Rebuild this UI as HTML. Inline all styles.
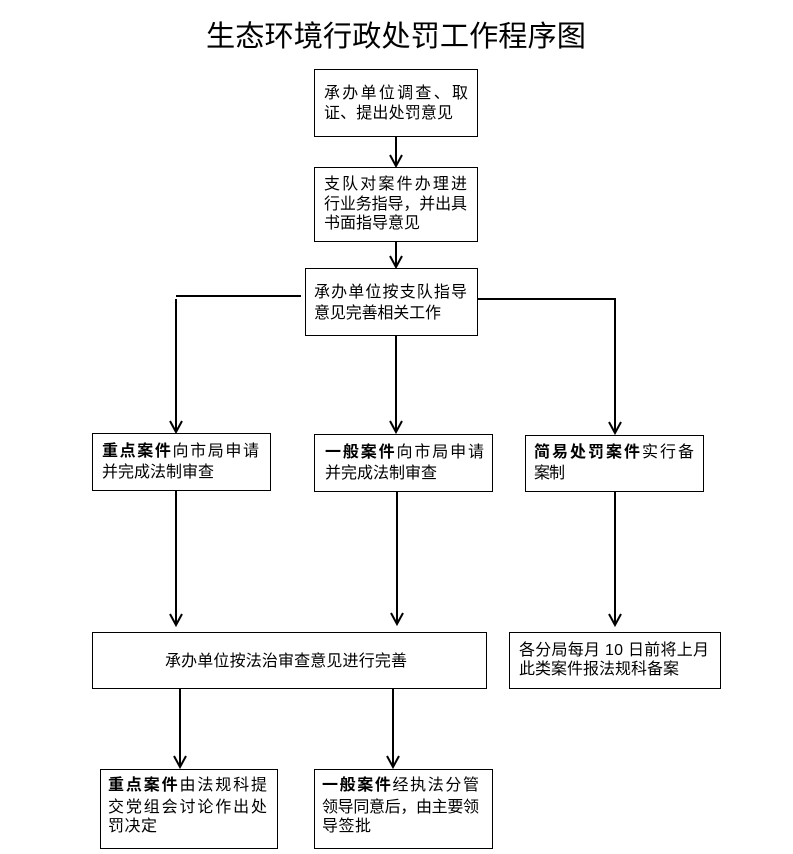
<!DOCTYPE html>
<html>
<head>
<meta charset="utf-8">
<style>
  html, body { margin: 0; padding: 0; background: #fff; }
  body { width: 793px; height: 854px; overflow: hidden; }
  svg { display: block; }
  text { font-family: "Liberation Sans", "Noto Sans CJK SC", sans-serif; fill: #000; }
  .t { font-size: 16px; }
  .b { font-weight: bold; }
  .title { font-size: 29px; }
</style>
</head>
<body>
<svg width="793" height="854" viewBox="0 0 793 854" xmlns="http://www.w3.org/2000/svg">
  <rect x="0" y="0" width="793" height="854" fill="#fff"/>

  <!-- Title -->
  <text class="title" x="206" y="46" textLength="380" lengthAdjust="spacingAndGlyphs">生态环境行政处罚工作程序图</text>

  <!-- Boxes -->
  <g fill="none" stroke="#000" stroke-width="1">
    <rect x="314.5" y="69.5" width="163" height="67"/>
    <rect x="314.5" y="167.5" width="163" height="74"/>
    <rect x="305.5" y="268.5" width="172" height="67"/>
    <rect x="92.5" y="433.5" width="178" height="57"/>
    <rect x="314.5" y="434.5" width="178" height="57"/>
    <rect x="525.5" y="435.5" width="178" height="56"/>
    <rect x="92.5" y="632.5" width="394" height="56"/>
    <rect x="509.5" y="632.5" width="211" height="56"/>
    <rect x="100.5" y="769.5" width="177" height="79"/>
    <rect x="314.5" y="769.5" width="178" height="79"/>
  </g>

  <!-- Connectors -->
  <g fill="none" stroke="#000" stroke-width="2">
    <!-- box1 -> box2 -->
    <line x1="396" y1="137" x2="396" y2="165"/>
    <path d="M390,155 L396,166 L402,155"/>
    <!-- box2 -> box3 -->
    <line x1="396" y1="242" x2="396" y2="266"/>
    <path d="M390,256 L396,267 L402,256"/>
    <!-- box3 left branch -->
    <line x1="176" y1="296" x2="301" y2="296"/>
    <line x1="176" y1="299" x2="176" y2="431"/>
    <path d="M170,421 L176,432 L182,421"/>
    <!-- box3 middle -->
    <line x1="396" y1="336" x2="396" y2="431"/>
    <path d="M390,421 L396,432 L402,421"/>
    <!-- box3 right branch -->
    <line x1="477" y1="299" x2="616" y2="299"/>
    <line x1="615" y1="300" x2="615" y2="432"/>
    <path d="M609,422 L615,433 L621,422"/>
    <!-- box4 -> box5 -->
    <line x1="176" y1="491" x2="176" y2="624"/>
    <path d="M170,614 L176,625 L182,614"/>
    <!-- box6 -> box5 -->
    <line x1="397" y1="492" x2="397" y2="623"/>
    <path d="M391,613 L397,624 L403,613"/>
    <!-- box7 -> box8 -->
    <line x1="615" y1="492" x2="615" y2="624"/>
    <path d="M609,614 L615,625 L621,614"/>
    <!-- box5 -> box9 -->
    <line x1="180" y1="689" x2="180" y2="766"/>
    <path d="M174,756 L180,767 L186,756"/>
    <!-- box5 -> box10 -->
    <line x1="393" y1="689" x2="393" y2="766"/>
    <path d="M387,756 L393,767 L399,756"/>
  </g>

  <!-- Box 1 text -->
  <text class="t" x="324" y="98" textLength="144" lengthAdjust="spacing">承办单位调查、取</text>
  <text class="t" x="324" y="118" textLength="129" lengthAdjust="spacing">证、提出处罚意见</text>

  <!-- Box 2 text -->
  <text class="t" x="324" y="189" textLength="143" lengthAdjust="spacing">支队对案件办理进</text>
  <text class="t" x="324" y="209" textLength="143" lengthAdjust="spacing">行业务指导，并出具</text>
  <text class="t" x="324" y="228" textLength="96" lengthAdjust="spacing">书面指导意见</text>

  <!-- Box 3 text -->
  <text class="t" x="314" y="297" textLength="153" lengthAdjust="spacing">承办单位按支队指导</text>
  <text class="t" x="314" y="318" textLength="127" lengthAdjust="spacing">意见完善相关工作</text>

  <!-- Box 4 text -->
  <text class="t" x="102" y="456" textLength="157" lengthAdjust="spacing"><tspan class="b">重点案件</tspan>向市局申请</text>
  <text class="t" x="102" y="477" textLength="112" lengthAdjust="spacing">并完成法制审查</text>

  <!-- Box 6 text -->
  <text class="t" x="325" y="457" textLength="159" lengthAdjust="spacing"><tspan class="b">一般案件</tspan>向市局申请</text>
  <text class="t" x="325" y="478" textLength="112" lengthAdjust="spacing">并完成法制审查</text>

  <!-- Box 7 text -->
  <text class="t" x="534" y="457" textLength="160" lengthAdjust="spacing"><tspan class="b">简易处罚案件</tspan>实行备</text>
  <text class="t" x="534" y="478" textLength="31" lengthAdjust="spacing">案制</text>

  <!-- Box 5 text -->
  <text class="t" x="165" y="666" textLength="242" lengthAdjust="spacing">承办单位按法治审查意见进行完善</text>

  <!-- Box 8 text -->
  <text class="t" x="519" y="655" textLength="190" lengthAdjust="spacing">各分局每月 10 日前将上月</text>
  <text class="t" x="519" y="674" textLength="160" lengthAdjust="spacing">此类案件报法规科备案</text>

  <!-- Box 9 text -->
  <text class="t" x="108" y="790" textLength="159" lengthAdjust="spacing"><tspan class="b">重点案件</tspan>由法规科提</text>
  <text class="t" x="108" y="812" textLength="159" lengthAdjust="spacing">交党组会讨论作出处</text>
  <text class="t" x="108" y="831" textLength="49" lengthAdjust="spacing">罚决定</text>

  <!-- Box 10 text -->
  <text class="t" x="322" y="790" textLength="157" lengthAdjust="spacing"><tspan class="b">一般案件</tspan>经执法分管</text>
  <text class="t" x="322" y="812" textLength="157" lengthAdjust="spacing">领导同意后，由主要领</text>
  <text class="t" x="322" y="831" textLength="49" lengthAdjust="spacing">导签批</text>
</svg>
</body>
</html>
